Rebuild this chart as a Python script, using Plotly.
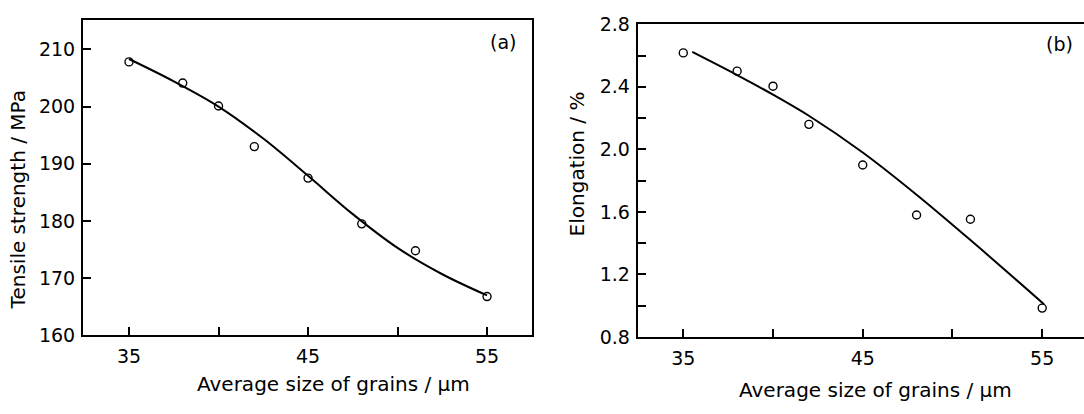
import plotly.graph_objects as go

# Panel (a): tensile strength vs grain size
grain_a = [35, 38, 40, 42, 45, 48, 51, 55]
tensile = [207.8, 204.1, 200.1, 193.0, 187.5, 179.5, 174.8, 166.8]
curve_a_x = [35, 37.5, 40, 42.5, 45, 47.5, 50, 52.5, 55]
curve_a_y = [208.3, 204.4, 200.0, 194.4, 187.9, 181.2, 175.3, 170.7, 167.0]

# Panel (b): elongation vs grain size
grain_b = [35, 38, 40, 42, 45, 48, 51, 55]
elong = [2.617, 2.50, 2.404, 2.16, 1.90, 1.58, 1.553, 0.985]
curve_b_x = [35.5, 38, 40, 42, 45, 48, 51, 55.1]
curve_b_y = [2.623, 2.475, 2.35, 2.215, 1.98, 1.71, 1.42, 1.01]

x_ticks = [35, 40, 45, 50, 55]
x_labels = ["35", "", "45", "", "55"]
ya_ticks = [160, 170, 180, 190, 200, 210]
yb_ticks = [0.8, 1.0, 1.2, 1.4, 1.6, 1.8, 2.0, 2.2, 2.4, 2.6, 2.8]
yb_labels = ["0.8", "", "1.2", "", "1.6", "", "2.0", "", "2.4", "", "2.8"]

FONT = "DejaVu Sans"
fig = go.Figure()

marker = dict(symbol="circle-open", size=8, color="black", line=dict(width=1.4, color="black"))

fig.add_trace(go.Scatter(x=curve_a_x, y=curve_a_y, mode="lines", line=dict(color="black", width=2, shape="spline"),
                         xaxis="x", yaxis="y", showlegend=False, hoverinfo="skip"))
fig.add_trace(go.Scatter(x=grain_a, y=tensile, mode="markers", marker=marker,
                         xaxis="x", yaxis="y", showlegend=False))
fig.add_trace(go.Scatter(x=curve_b_x, y=curve_b_y, mode="lines", line=dict(color="black", width=2, shape="spline"),
                         xaxis="x2", yaxis="y2", showlegend=False, hoverinfo="skip"))
fig.add_trace(go.Scatter(x=grain_b, y=elong, mode="markers", marker=marker,
                         xaxis="x2", yaxis="y2", showlegend=False))

W, H = 1084, 414
def px(x):
    return x / W
def py(y):
    return 1 - y / H

tickfont = dict(family=FONT, size=19, color="black")
axis_common = dict(showgrid=False, zeroline=False, showline=True, linecolor="black", linewidth=2,
                   ticks="inside", tickcolor="black", tickwidth=1.5, ticklen=8, tickfont=tickfont)

fig.update_layout(
    width=W, height=H,
    margin=dict(l=0, r=0, t=0, b=0),
    paper_bgcolor="white", plot_bgcolor="white",
    xaxis=dict(domain=[px(83), px(532)], range=[32.43, 57.51], anchor="y",
               tickmode="array", tickvals=x_ticks, ticktext=x_labels, mirror=True,
               ticklabelstandoff=3, **axis_common),
    yaxis=dict(domain=[py(342.7), py(9)], range=[160, 215.2], anchor="x",
               tickmode="array", tickvals=ya_ticks, mirror=True, ticklabelstandoff=2, **axis_common),
    xaxis2=dict(domain=[px(637.7), 1.0], range=[32.46, 57.33], anchor="y2",
                tickmode="array", tickvals=x_ticks, ticktext=x_labels, mirror=True,
                ticklabelstandoff=3, **axis_common),
    yaxis2=dict(domain=[py(344.3), py(14)], range=[0.8, 2.8], anchor="x2",
                tickmode="array", tickvals=yb_ticks, ticktext=yb_labels, mirror=False,
                ticklabelstandoff=2, **axis_common),
    annotations=[
        dict(text="Average size of grains / μm", x=px(333), y=py(394), xref="paper", yref="paper",
             showarrow=False, font=dict(family=FONT, size=20, color="black"), xanchor="center", yanchor="middle"),
        dict(text="Average size of grains / μm", x=px(875), y=py(400), xref="paper", yref="paper",
             showarrow=False, font=dict(family=FONT, size=20, color="black"), xanchor="center", yanchor="middle"),
        dict(text="Tensile strength / MPa", x=px(17.5), y=py(199.5), xref="paper", yref="paper", textangle=-90,
             showarrow=False, font=dict(family=FONT, size=20, color="black"), xanchor="center", yanchor="middle"),
        dict(text="Elongation / %", x=px(577), y=py(162), xref="paper", yref="paper", textangle=-90,
             showarrow=False, font=dict(family=FONT, size=20, color="black"), xanchor="center", yanchor="middle"),
        dict(text="(a)", x=px(503), y=py(33), xref="paper", yref="paper",
             showarrow=False, font=dict(family=FONT, size=19, color="black"), xanchor="center", yanchor="middle"),
        dict(text="(b)", x=px(1059), y=py(35), xref="paper", yref="paper",
             showarrow=False, font=dict(family=FONT, size=19, color="black"), xanchor="center", yanchor="middle"),
    ],
)

fig.write_html("out.html")
